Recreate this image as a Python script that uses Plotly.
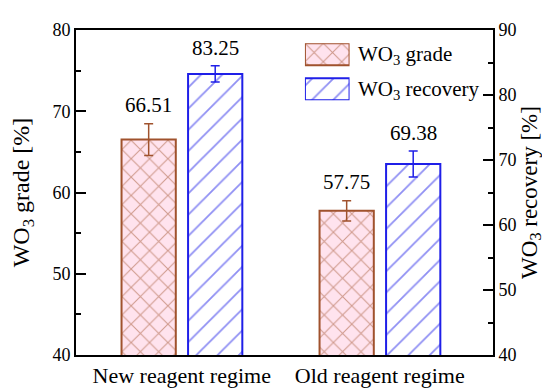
import plotly.graph_objects as go

# ---------------- data ----------------
categories = ["New reagent regime", "Old reagent regime"]
grade = [66.51, 57.75]
grade_err = [1.95, 1.25]
recovery = [83.25, 69.38]
recovery_err = [1.25, 2.0]
series_names = ["WO<sub>3</sub> grade", "WO<sub>3</sub> recovery"]

# ---------------- style ----------------
FONT = "Liberation Serif, Times New Roman, serif"
BROWN = "#a0522d"
PINK = "#ffe3ee"
BLUE = "#1f1fe8"
BAR_W = 0.274
GRADE_C = -0.167
REC_C = 0.169

xpos = list(range(len(categories)))

grade_marker = dict(color=PINK, line=dict(color=BROWN, width=2),
                    pattern=dict(shape="x", fgcolor=BROWN, bgcolor=PINK, size=13, solidity=0.16))
rec_marker = dict(color="white", line=dict(color=BLUE, width=2),
                  pattern=dict(shape="/", fgcolor=BLUE, bgcolor="white", size=15, solidity=0.12))

fig = go.Figure()
fig.add_trace(go.Bar(
    x=xpos, y=grade, width=BAR_W, offset=GRADE_C - BAR_W / 2,
    marker=grade_marker, yaxis="y", showlegend=False,
    error_y=dict(type="data", array=grade_err, color=BROWN, thickness=1.5, width=4.5),
))
fig.add_trace(go.Bar(
    x=xpos, y=recovery, width=BAR_W, offset=REC_C - BAR_W / 2,
    marker=rec_marker, yaxis="y2", showlegend=False,
    error_y=dict(type="data", array=recovery_err, color=BLUE, thickness=1.5, width=4.5),
))

# legend swatches drawn in a small inset axis
fig.add_trace(go.Bar(x=[1], y=[0], orientation="h", width=0.63, marker=grade_marker,
                     xaxis="x3", yaxis="y3", showlegend=False, hoverinfo="skip"))
fig.add_trace(go.Bar(x=[1], y=[1], orientation="h", width=0.63, marker=rec_marker,
                     xaxis="x3", yaxis="y3", showlegend=False, hoverinfo="skip"))

annotations = []
for i, (v, e) in enumerate(zip(grade, grade_err)):
    annotations.append(dict(x=i + GRADE_C, y=v + e, xref="x", yref="y", text=f"{v:.2f}",
                            showarrow=False, yanchor="middle", yshift=19,
                            font=dict(family=FONT, size=21, color="black")))
for i, (v, e) in enumerate(zip(recovery, recovery_err)):
    annotations.append(dict(x=i + REC_C, y=v + e, xref="x", yref="y2", text=f"{v:.2f}",
                            showarrow=False, yanchor="middle", yshift=18,
                            font=dict(family=FONT, size=21, color="black")))
for k, name in enumerate(series_names):
    annotations.append(dict(x=1.0, y=k, xref="x3", yref="y3", text=name, showarrow=False,
                            xanchor="left", yanchor="middle", xshift=6, yshift=-1,
                            font=dict(family=FONT, size=21, color="black")))

axis_common = dict(showline=True, linewidth=2, linecolor="black", showgrid=False,
                   zeroline=False, ticks="inside", ticklen=10, tickwidth=2, tickcolor="black",
                   tickfont=dict(family=FONT, size=18, color="black"),
                   minor=dict(ticks="inside", ticklen=5, tickwidth=1.5, tickcolor="black", dtick=5,
                              showgrid=False))

fig.update_layout(
    width=550, height=392,
    margin=dict(l=66, r=65, t=14, b=44),
    paper_bgcolor="white", plot_bgcolor="white",
    barmode="overlay",
    font=dict(family=FONT, color="black"),
    xaxis=dict(range=[-0.534, 1.572], tickvals=xpos, ticktext=categories,
               showline=True, mirror=True, linewidth=2, linecolor="black",
               showgrid=False, zeroline=False, ticks="",
               tickfont=dict(family=FONT, size=22, color="black")),
    yaxis=dict(range=[40, 80], dtick=10, tick0=40,
               title=dict(text="WO<sub>3</sub> grade [%]", font=dict(family=FONT, size=24, color="black"),
                          standoff=16),
               **axis_common),
    yaxis2=dict(range=[40, 90], dtick=10, tick0=40, overlaying="y", side="right",
                title=dict(text="WO<sub>3</sub> recovery [%]", font=dict(family=FONT, size=23, color="black"),
                           standoff=2),
                **axis_common),
    xaxis3=dict(domain=[0.549, 0.656], range=[0, 1], visible=False, anchor="y3", fixedrange=True),
    yaxis3=dict(domain=[0.784, 0.959], range=[1.316, -0.313], visible=False, anchor="x3", fixedrange=True),
    annotations=annotations,
)

fig.write_html("out.html")
